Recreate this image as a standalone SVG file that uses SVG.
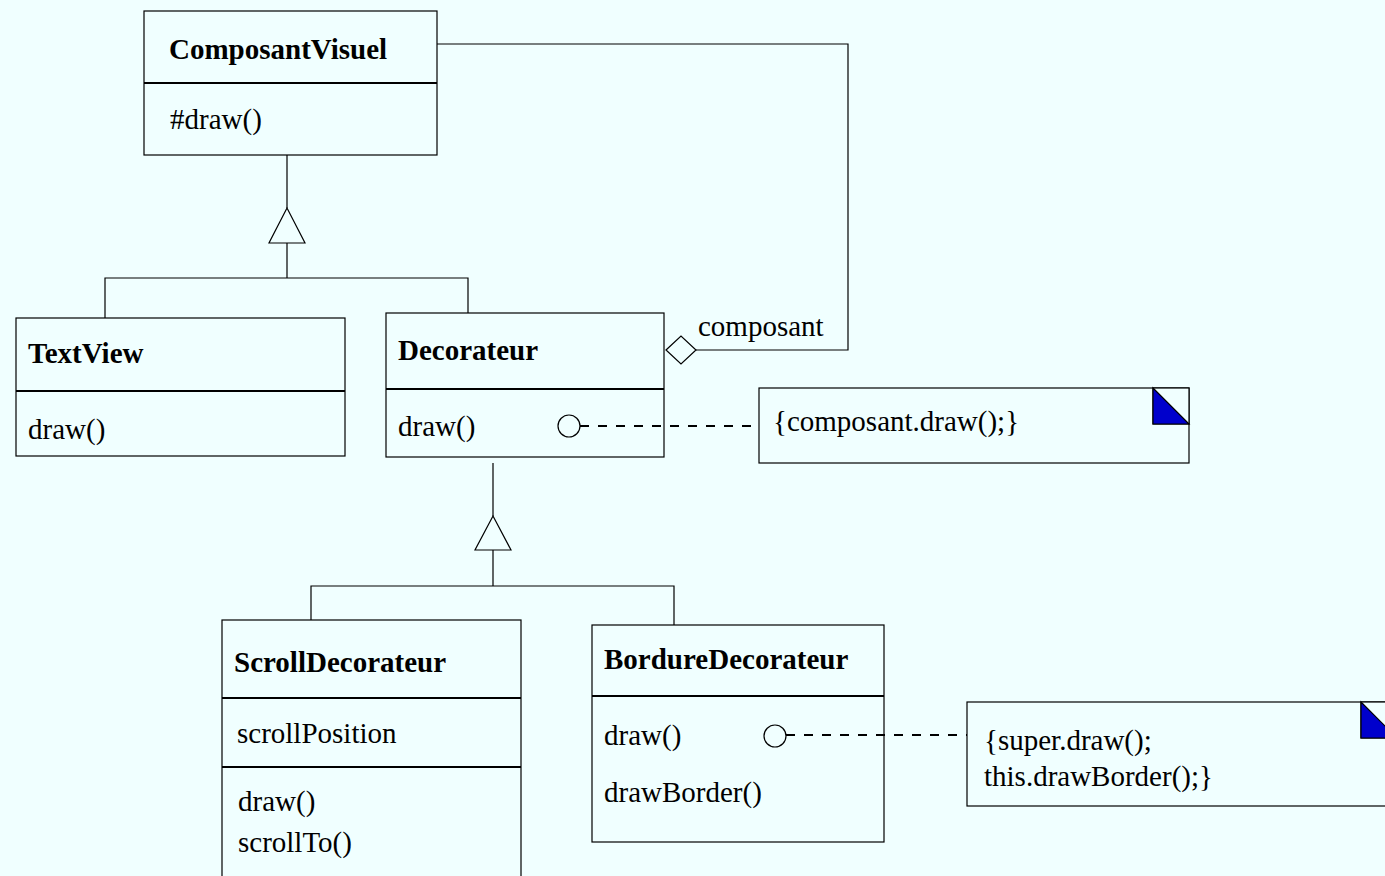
<svg xmlns="http://www.w3.org/2000/svg" width="1385" height="876" viewBox="0 0 1385 876">
  <style>
    .box { fill: #F0FFFF; stroke: #000; stroke-width: 1.2; }
    .div { stroke: #000; stroke-width: 2; fill: none; }
    .ln { stroke: #000; stroke-width: 1.2; fill: none; }
    .dash { stroke: #000; stroke-width: 1.3; fill: none; stroke-dasharray: 9 9; shape-rendering: crispEdges; }
    .tri { fill: #F0FFFF; stroke: #000; stroke-width: 1.2; }
    .fold { fill: #0000CC; stroke: #000; stroke-width: 1.2; }
    .t { font-family: "Liberation Serif", "Times New Roman", serif; font-size: 29px; fill: #000; }
    .b { font-weight: bold; }
  </style>
  <rect x="0" y="0" width="1385" height="876" fill="#F0FFFF"/>

  <g id="ComposantVisuel">
    <rect class="box" x="144" y="11" width="293" height="144"/>
    <line class="div" x1="144" y1="83" x2="437" y2="83"/>
    <text class="t b" x="169" y="59">ComposantVisuel</text>
    <text class="t" x="170" y="129">#draw()</text>
  </g>

  <g id="TextView">
    <rect class="box" x="16" y="318" width="329" height="138"/>
    <line class="div" x1="16" y1="391" x2="345" y2="391"/>
    <text class="t b" x="28" y="363">TextView</text>
    <text class="t" x="28" y="439">draw()</text>
  </g>

  <g id="Decorateur">
    <rect class="box" x="386" y="313" width="278" height="144"/>
    <line class="div" x1="386" y1="389" x2="664" y2="389"/>
    <text class="t b" x="398" y="360">Decorateur</text>
    <text class="t" x="398" y="436">draw()</text>
  </g>

  <g id="note-decorateur">
    <rect class="box" x="759" y="388" width="430" height="75"/>
    <rect class="box" x="1153" y="388" width="36" height="36"/>
    <polygon class="fold" points="1153,388 1189,424 1153,424"/>
    <text class="t" x="773" y="431">{composant.draw();}</text>
  </g>

  <g id="ScrollDecorateur">
    <rect class="box" x="222" y="620" width="299" height="270"/>
    <line class="div" x1="222" y1="698" x2="521" y2="698"/>
    <line class="div" x1="222" y1="767" x2="521" y2="767"/>
    <text class="t b" x="234" y="672">ScrollDecorateur</text>
    <text class="t" x="237" y="743">scrollPosition</text>
    <text class="t" x="238" y="811">draw()</text>
    <text class="t" x="238" y="852">scrollTo()</text>
  </g>

  <g id="BordureDecorateur">
    <rect class="box" x="592" y="625" width="292" height="217"/>
    <line class="div" x1="592" y1="696" x2="884" y2="696"/>
    <text class="t b" x="604" y="669">BordureDecorateur</text>
    <text class="t" x="604" y="745">draw()</text>
    <text class="t" x="604" y="802">drawBorder()</text>
  </g>

  <g id="note-bordure">
    <rect class="box" x="967" y="702" width="430" height="104"/>
    <rect class="box" x="1361" y="702" width="36" height="36"/>
    <polygon class="fold" points="1361,702 1397,738 1361,738"/>
    <text class="t" x="984" y="750">{super.draw();</text>
    <text class="t" x="984" y="786">this.drawBorder();}</text>
  </g>

  <g id="connectors">
    <!-- inheritance: TextView, Decorateur -> ComposantVisuel -->
    <path class="ln" d="M287,155 V208 M287,243 V278 M105,318 V278 H468 V313"/>
    <polygon class="tri" points="287,208 269,243 305,243"/>
    <!-- inheritance: ScrollDecorateur, BordureDecorateur -> Decorateur -->
    <path class="ln" d="M493,463 V516 M493,550 V586 M311,620 V586 H674 V625"/>
    <polygon class="tri" points="493,516 475,550 511,550"/>
    <!-- aggregation composant -->
    <path class="ln" d="M437,44 H848 V350 H696"/>
    <polygon class="tri" points="666,350 681,336 696,350 681,364"/>
    <text class="t" x="698" y="336">composant</text>
    <!-- note links -->
    <circle class="tri" cx="569" cy="426" r="11"/>
    <line class="dash" x1="580" y1="426" x2="759" y2="426"/>
    <circle class="tri" cx="775" cy="736" r="11"/>
    <line class="dash" x1="786" y1="735" x2="967" y2="735"/>
  </g>
</svg>
